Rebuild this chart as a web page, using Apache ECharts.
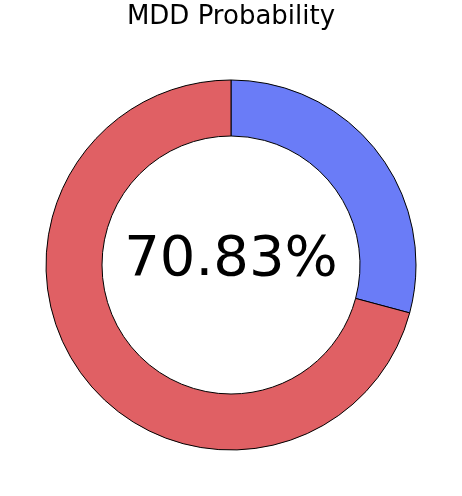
<!DOCTYPE html>
<html><head><meta charset="utf-8">
<script src="https://cdn.jsdelivr.net/npm/echarts@6/dist/echarts.min.js"></script>
<style>html,body{margin:0;padding:0;background:#fff}#c{width:462px;height:496px}</style>
</head><body><div id="c"></div>
<script>
const categories = ['Non-MDD', 'MDD'];
const values = [29.17, 70.83];
const colors = ['#6a7cf7', '#e06064'];
const chart = echarts.init(document.getElementById('c'));
chart.setOption({
  animation: false,
  title: { text: 'MDD Probability', left: 'center', top: -1,
    textStyle: { fontFamily: 'DejaVu Sans', fontSize: 26, fontWeight: 'normal', color: '#000' } },
  graphic: [{ type: 'text', left: 'center', top: 232,
    style: { text: values[1].toFixed(2) + '%', font: '56px "DejaVu Sans"', fill: '#000' } }],
  series: [{
    type: 'pie', center: [231, 265], radius: [129, 185], startAngle: 90, clockwise: true,
    label: { show: false }, labelLine: { show: false }, emphasis: { disabled: true },
    itemStyle: { borderColor: '#000', borderWidth: 1 },
    data: categories.map((n, i) => ({ name: n, value: values[i], itemStyle: { color: colors[i] } }))
  }]
});
</script></body></html>
